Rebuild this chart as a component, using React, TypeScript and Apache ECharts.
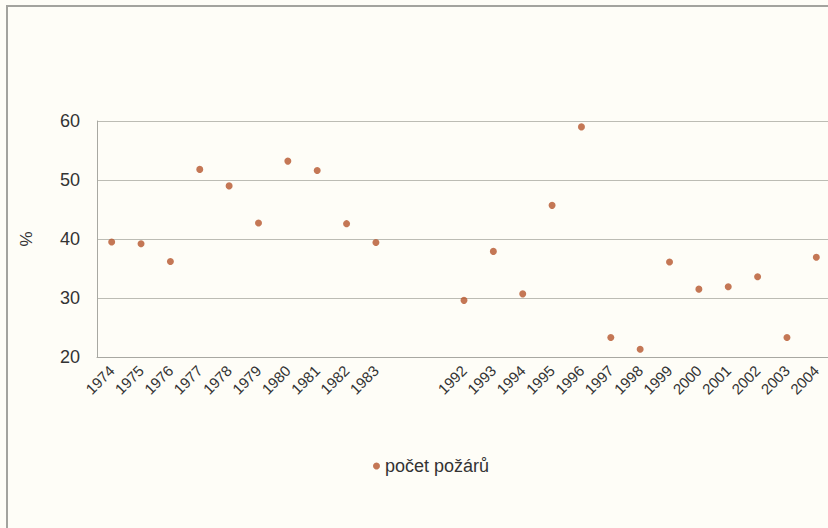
import React, { useEffect, useRef } from "react";
import * as echarts from "echarts";

const categories = [
  "1974", "1975", "1976", "1977", "1978", "1979", "1980", "1981", "1982", "1983",
  " ", "  ",
  "1992", "1993", "1994", "1995", "1996", "1997", "1998", "1999", "2000", "2001", "2002", "2003", "2004",
];

const pocetPozaru: (number | string)[] = [
  39.5, 39.2, 36.2, 51.8, 49.0, 42.7, 53.2, 51.6, 42.6, 39.4,
  "-", "-",
  29.6, 37.9, 30.7, 45.7, 59.0, 23.3, 21.3, 36.1, 31.5, 31.9, 33.6, 23.3, 36.9,
];

const yTicks = { min: 20, max: 60, interval: 10 };
const seriesName = "počet požárů";
const yName = "%";

export default function App() {
  const ref = useRef<HTMLDivElement>(null);
  useEffect(() => {
    if (!ref.current) return;
    const chart = echarts.init(ref.current, null, { renderer: "svg" });
    const font = "'Liberation Sans', Arial, sans-serif";
    chart.setOption({
      animation: false,
      backgroundColor: "#fefdf7",
      graphic: [
        {
          type: "rect",
          shape: { x: 7, y: 6, width: 1200, height: 1000 },
          style: { fill: "none", stroke: "#a3a39e", lineWidth: 2 },
          silent: true,
        },
      ],
      grid: { left: 97, right: 9, top: 121, bottom: 171, containLabel: false },
      legend: {
        data: [seriesName],
        left: 373,
        top: 457,
        padding: 0,
        icon: "circle",
        itemWidth: 7,
        itemHeight: 7,
        itemGap: 5,
        textStyle: { fontFamily: font, fontSize: 18, color: "#333333" },
      },
      xAxis: {
        type: "category",
        data: categories,
        boundaryGap: true,
        axisLine: { show: true, lineStyle: { color: "#a8a8a2", width: 1 } },
        axisTick: { show: false },
        axisLabel: {
          interval: 0,
          rotate: 45,
          margin: 11,
          fontFamily: font,
          fontSize: 15,
          color: "#333333",
        },
        splitLine: { show: false },
      },
      yAxis: {
        type: "value",
        min: yTicks.min,
        max: yTicks.max,
        interval: yTicks.interval,
        name: yName,
        nameLocation: "middle",
        nameGap: 62,
        nameRotate: 90,
        nameTextStyle: { fontFamily: font, fontSize: 17, color: "#333333" },
        axisLine: { show: true, lineStyle: { color: "#a8a8a2", width: 1 } },
        axisTick: { show: false },
        axisLabel: { margin: 17, fontFamily: font, fontSize: 18, color: "#333333" },
        splitLine: { show: true, lineStyle: { color: "#bcbcb4", width: 1 } },
      },
      series: [
        {
          name: seriesName,
          type: "scatter",
          data: pocetPozaru,
          symbol: "circle",
          symbolSize: 7,
          itemStyle: { color: "#b5552c" },
        },
      ],
    });
    return () => chart.dispose();
  }, []);
  return (
    <div style={{ position: "fixed", left: 0, top: 0, width: 828, height: 528, overflow: "hidden" }}>
      <div ref={ref} style={{ width: 840, height: 528 }} />
    </div>
  );
}
